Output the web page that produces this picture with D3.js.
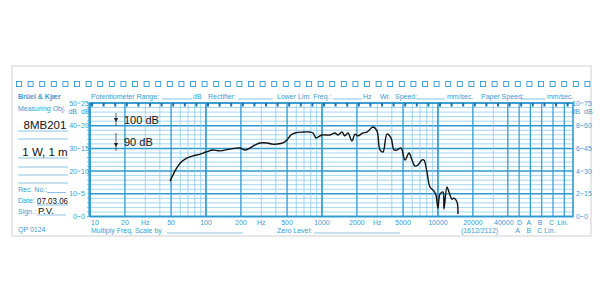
<!DOCTYPE html>
<html><head><meta charset="utf-8">
<script src="https://cdn.jsdelivr.net/npm/d3@7"></script>
<style>
html,body{margin:0;padding:0;background:#fff;}
svg{display:block;font-family:"Liberation Sans",Arial,sans-serif;}
</style></head>
<body>
<svg id="c" width="600" height="300"></svg>
<script>
// ---------- data ----------
const freqHz = [49,54,60,69,77,89,100,113,132,161,196,217,240,265,292,336,371,409,461,499,540,585,686,788,836,888,924,1000,1172,1294,1374,1487,1578,1675,1815,1925,2043,2256,2443,2754,2980,3162,3357,3634,3936,4178,4434,4800,5197,5626,5971,6338,6727,7283,7571,8036,8531,9240,9613,10000,10404,11045,11265,11958,12442,13208,13741,14587,14878];
const splDb = [75.6,80.0,83.6,85.8,86.7,87.5,88.4,89.3,88.9,89.7,90.2,89.3,90.2,91.5,92.4,92.4,91.9,91.9,92.4,93.7,95.9,96.8,97.2,97.2,96.8,94.6,95.0,95.9,95.9,96.8,95.9,97.2,95.5,96.8,93.3,96.3,95.5,96.8,97.2,99.4,97.7,89.3,88.4,96.3,94.6,89.3,89.3,90.2,84.9,88.0,84.9,82.2,82.7,84.9,84.9,79.6,73.0,71.2,69.5,63.7,69.9,70.8,63.3,73.0,70.8,67.7,68.1,66.4,61.1];
const freqTickLabels = ["10","20","Hz","50","100","200","Hz","500","1000","2000","Hz","5000","10000","20000","40000"];
const freqTickValues = [10,20,30,50,100,200,300,500,1000,2000,3000,5000,10000,20000,40000];
const weightingLabelsTop = ["D","A","B","C","Lin."];
const weightingLabelsBottom = ["A","B","C Lin."];
const leftOuterTicks = ["0","10","20","30","40","50"];
const leftInnerTicks = ["0","5","10","15","20","25"];
const rightInnerTicks = ["0","2","4","6","8","10"];
const rightOuterTicks = ["0","15","30","45","60","75"];
const rangeMarks = ["100 dB","90 dB"];

// ---------- setup ----------
const svg = d3.select("#c");
const BLUE = "#2f9ad2", LBLUE = "#86c8e9", TXT = "#3a9bd2";
const X0 = 90, X40K = 507.8, XR = 573, Y0 = 103, Y1 = 216.5;
const x = d3.scaleLog().domain([10, 40000]).range([X0, X40K]);
const y = d3.scaleLinear().domain([60, 110]).range([Y1, Y0]);
const yRel = d3.scaleLinear().domain([0, 50]).range([Y1, Y0]);

// outer frame
svg.append("rect").attr("x",12).attr("y",66).attr("width",579).attr("height",170)
  .attr("fill","none").attr("stroke","#cfcfcf").attr("stroke-width",1);

// sprocket holes
svg.append("g").selectAll("rect").data(d3.range(50)).join("rect")
  .attr("x", i => 16.5 + i*11.6).attr("y", 81.5).attr("width",5).attr("height",5)
  .attr("fill","none").attr("stroke",BLUE).attr("stroke-width",0.9);

// grid
const grid = svg.append("g");
const hLines = d3.range(0, 51, 2);
grid.selectAll("line.h").data(hLines).join("line")
  .attr("x1",X0).attr("x2",XR).attr("y1",d=>yRel(d)).attr("y2",d=>yRel(d))
  .attr("stroke", d => d%10===0 ? BLUE : LBLUE)
  .attr("stroke-width", d => d%10===0 ? 1.5 : 0.75);

const vFreqs = [];
[10,100,1000,10000].forEach(dec => { for (let m=1;m<=9;m++){ const f=dec*m; if (f<=40000) vFreqs.push({f,m}); }});
vFreqs.push({f:20000,m:2},{f:30000,m:3},{f:40000,m:4});
const uniq = vFreqs.filter((d,i,a)=>a.findIndex(e=>e.f===d.f)===i && d.f<=40000);
grid.selectAll("line.v").data(uniq).join("line")
  .attr("x1",d=>x(d.f)).attr("x2",d=>x(d.f)).attr("y1",Y0).attr("y2",Y1)
  .attr("stroke", d => (d.m===1||d.m===2||d.m===5||d.f===40000) ? BLUE : LBLUE)
  .attr("stroke-width", d => d.m===1 ? 1.7 : ((d.m===2||d.m===5||d.f===40000) ? 1.3 : 0.75));

const wx = d3.scaleLinear().domain([0,5]).range([X40K, X40K + 5*11.3]);
grid.selectAll("line.w").data(d3.range(1,6)).join("line")
  .attr("x1",d=>wx(d)).attr("x2",d=>wx(d)).attr("y1",Y0).attr("y2",Y1)
  .attr("stroke",BLUE).attr("stroke-width",1.2);

// border
svg.append("rect").attr("x",X0).attr("y",Y0).attr("width",XR-X0).attr("height",Y1-Y0)
  .attr("fill","none").attr("stroke",BLUE).attr("stroke-width",1.6);

// top time marks
svg.append("g").selectAll("rect").data(d3.range(42)).join("rect")
  .attr("x", i => 91 + i*11.6).attr("y", Y0).attr("width",2).attr("height",3.5)
  .attr("fill","#1f6fa8");

// left axis ticks
svg.append("g").selectAll("line").data(d3.range(0,51,2)).join("line")
  .attr("x1",87).attr("x2",X0).attr("y1",d=>yRel(d)).attr("y2",d=>yRel(d))
  .attr("stroke",BLUE).attr("stroke-width",0.6);
svg.append("line").attr("x1",88.5).attr("x2",88.5).attr("y1",Y0).attr("y2",Y1).attr("stroke",BLUE).attr("stroke-width",0.6);

const small = (sel) => sel.attr("fill",TXT).attr("font-size",7);
// left axis labels
const la = svg.append("g");
leftOuterTicks.forEach((t,i) => {
  const yy = yRel(i*10);
  small(la.append("text")).attr("x",77).attr("y",yy+2.5).attr("text-anchor","end").text(t);
  la.append("line").attr("x1",77.5).attr("x2",80.5).attr("y1",yy).attr("y2",yy).attr("stroke",TXT).attr("stroke-width",0.7);
  small(la.append("text")).attr("x",81).attr("y",yy+2.5).text(leftInnerTicks[i]);
});
small(la.append("text")).attr("x",77).attr("y",114).attr("text-anchor","end").text("dB");
small(la.append("text")).attr("x",81).attr("y",114).text("dB");

// right axis labels
const ra = svg.append("g");
rightInnerTicks.forEach((t,i) => {
  const yy = yRel(i*10);
  small(ra.append("text")).attr("x",580).attr("y",yy+2.5).attr("text-anchor","end").text(t);
  ra.append("line").attr("x1",580.5).attr("x2",583.5).attr("y1",yy).attr("y2",yy).attr("stroke",TXT).attr("stroke-width",0.7);
  small(ra.append("text")).attr("x",584).attr("y",yy+2.5).text(rightOuterTicks[i]);
});
small(ra.append("text")).attr("x",580).attr("y",114).attr("text-anchor","end").text("dB");
small(ra.append("text")).attr("x",584).attr("y",114).text("dB");

// frequency labels
const fl = svg.append("g");
freqTickValues.forEach((f,i) => {
  const dx = f===10 ? 5 : (f===40000 ? -4 : 0);
  small(fl.append("text")).attr("x", x(f)+dx).attr("y",225).attr("text-anchor","middle").text(freqTickLabels[i]);
});
weightingLabelsTop.forEach((t,i) => {
  small(fl.append("text")).attr("x", wx(i+1)-(i===0?-0.5:1.5)).attr("y",225).attr("text-anchor","middle").text(t);
});
weightingLabelsBottom.forEach((t,i) => {
  small(fl.append("text")).attr("x", wx(i+1)-1.5).attr("y",233).attr("text-anchor", i===2 ? "start":"middle").attr("dx", i===2 ? -3 : 0).text(t);
});
small(fl.append("text")).attr("x",x(20000)-12).attr("y",233).text("(1612/2112)");

// header texts
const hd = svg.append("g");
const HY = 99;
const uline = (g,x1,x2,yy) => g.append("line").attr("x1",x1).attr("x2",x2).attr("y1",yy).attr("y2",yy).attr("stroke",TXT).attr("stroke-width",0.6);
small(hd.append("text")).attr("x",18).attr("y",HY).attr("font-weight","bold").text("Brüel & Kjær");
small(hd.append("text")).attr("x",91).attr("y",HY).text("Potentiometer Range:");
uline(hd,162,192,HY); small(hd.append("text")).attr("x",193).attr("y",HY).text("dB");
small(hd.append("text")).attr("x",208).attr("y",HY).text("Rectifier:");
uline(hd,238,273,HY);
small(hd.append("text")).attr("x",277).attr("y",HY).text("Lower Lim. Freq.:");
uline(hd,333,362,HY); small(hd.append("text")).attr("x",363).attr("y",HY).text("Hz");
small(hd.append("text")).attr("x",380).attr("y",HY).text("Wr.");
small(hd.append("text")).attr("x",395).attr("y",HY).text("Speed:");
uline(hd,417,445,HY); small(hd.append("text")).attr("x",447).attr("y",HY).text("mm/sec.");
small(hd.append("text")).attr("x",481).attr("y",HY).text("Paper Speed:");
uline(hd,521,546,HY); small(hd.append("text")).attr("x",547).attr("y",HY).text("mm/sec.");

// footer texts
small(hd.append("text")).attr("x",91).attr("y",233).text("Multiply Freq. Scale by");
uline(hd,167,243,233);
small(hd.append("text")).attr("x",277).attr("y",233).text("Zero Level:");
uline(hd,314,400,233);
small(hd.append("text")).attr("x",18).attr("y",232).text("QP  0124");

// left panel
small(hd.append("text")).attr("x",18).attr("y",111).text("Measuring Obj.");
hd.append("text").attr("x",45).attr("y",129).attr("text-anchor","middle").attr("font-size",11.5).attr("fill","#111").text("8MB201");
[131,139,158,167,175,183].forEach(yy => uline(hd,18,68,yy));
hd.append("text").attr("x",45).attr("y",156).attr("text-anchor","middle").attr("font-size",11.5).attr("fill","#111").text("1 W, 1 m");
small(hd.append("text")).attr("x",18).attr("y",192).text("Rec.  No.:");
uline(hd,47,66,192.5);
small(hd.append("text")).attr("x",18).attr("y",203).text("Date:");
hd.append("text").attr("x",37).attr("y",204).attr("font-size",8.8).attr("fill","#111")
  .attr("textLength",31).attr("lengthAdjust","spacingAndGlyphs").text("07.03.06");
uline(hd,37,68,205);
small(hd.append("text")).attr("x",18).attr("y",214).text("Sign.:");
hd.append("text").attr("x",38).attr("y",213.5).attr("font-size",9.5).attr("fill","#111").text("P.V.");
uline(hd,37,66,215);

// range marks (potentiometer)
const rm = svg.append("g");
[[y(100),113,126],[y(90),133,151]].forEach((d,i) => {
  rm.append("line").attr("x1",116).attr("x2",116).attr("y1",d[1]).attr("y2",d[2]).attr("stroke","#222").attr("stroke-width",0.7);
  const ah = d[2]-5;
  rm.append("path").attr("d",`M113.8,${ah-3}L118.2,${ah-3}L116,${ah+1}Z`).attr("fill","#222");
  rm.append("text").attr("x",124).attr("y",d[0]-2).attr("font-size",11).attr("fill","#111").text(rangeMarks[i]);
});

// response curve
const pts = freqHz.map((f,i) => [f, splDb[i]]);
const line = d3.line().x(d=>x(d[0])).y(d=>y(d[1])).curve(d3.curveCatmullRom.alpha(0.5));
svg.append("path").datum(pts).attr("d",line).attr("fill","none")
  .attr("stroke","#111").attr("stroke-width",1.4).attr("stroke-linejoin","round");
</script>
</body></html>
